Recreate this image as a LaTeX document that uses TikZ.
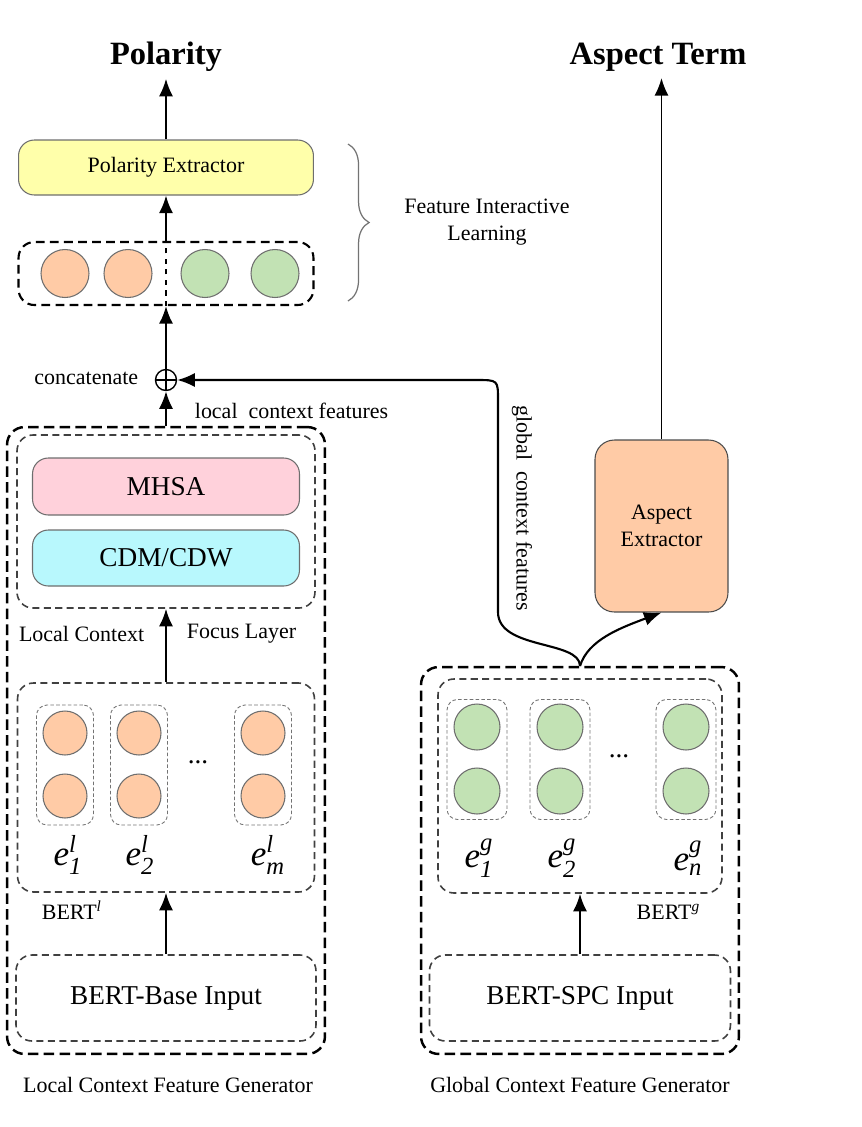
\documentclass[tikz,border=0pt]{standalone}
\usepackage{fontspec}
\setmainfont{Liberation Serif}
\usepackage{amsmath}
\usetikzlibrary{arrows.meta,decorations.pathreplacing}

\definecolor{pyellow}{HTML}{FFFFAA}
\definecolor{porange}{HTML}{FFCBA6}
\definecolor{pgreen}{HTML}{C2E2B4}
\definecolor{ppink}{HTML}{FFD1DB}
\definecolor{pcyan}{HTML}{B8F8FD}
\definecolor{pedge}{HTML}{6E6E6E}

\newcommand{\embvec}[2]{\textit{e}$^{\textit{#1}}_{\textit{#2}}$}

\tikzset{
	title/.style={font=\fontsize{18.5}{22}\selectfont\bfseries},
	lbl/.style={font=\fontsize{12.5}{15}\selectfont},
	big/.style={font=\fontsize{15.5}{18}\selectfont},
	emb/.style={font=\fontsize{20}{24}\selectfont},
	block/.style={draw=pedge, rounded corners=9pt, line width=0.6pt},
	gen/.style={draw, rounded corners=10pt, line width=1.4pt, dash pattern=on 6pt off 3pt},
	layer/.style={draw=black!75, rounded corners=9pt, line width=0.9pt, dash pattern=on 4pt off 2.5pt},
	column/.style={draw=black!55, rounded corners=6pt, line width=0.5pt, dash pattern=on 2pt off 1.3pt,
		minimum width=1.14cm, minimum height=2.4cm},
	tok/.style={circle, draw=pedge, line width=0.6pt},
	concat/.style={circle, draw, line width=0.8pt, minimum size=0.42cm, inner sep=0pt,
		path picture={\draw[line width=0.8pt] (path picture bounding box.north) -- (path picture bounding box.south)
			(path picture bounding box.west) -- (path picture bounding box.east);}},
}

\begin{document}
\begin{tikzpicture}[x=0.02cm, y=-0.02cm, >={Latex[length=10pt,width=8pt]}, line width=1.2pt]

	\useasboundingbox (0,0) rectangle (862,1127);

	% outputs
	\node[title] at (166, 57) (pol) {Polarity};
	\node[title] at (658, 57) (aterm) {Aspect Term};

	\node[block, fill=pyellow, minimum width=5.9cm, minimum height=1.1cm, lbl] at (166, 167.5) (pe) {Polarity Extractor};
	\node[layer, draw=black, line width=1.2pt, dash pattern=on 5pt off 3pt, minimum width=5.9cm, minimum height=1.26cm] at (166, 273.5) (fus) {};
	\node[tok, fill=porange, minimum size=0.96cm] at (65, 273.5) (f1) {};
	\node[tok, fill=porange, minimum size=0.96cm] at (128, 273.5) (f2) {};
	\node[tok, fill=pgreen, minimum size=0.96cm] at (205, 273.5) (f3) {};
	\node[tok, fill=pgreen, minimum size=0.96cm] at (275, 273.5) (f4) {};

	\node[concat] at (166, 380) (cat) {};
	\node[lbl, anchor=east] at (145, 378) (catlbl) {concatenate};

	\draw[line width=0.7pt, draw=black!55, decorate, decoration={brace, amplitude=12pt}] (348, 144) to (348, 301);
	\node[lbl, align=center] at (487, 222) (fil) {Feature Interactive\\Learning};

	% local context feature generator
	\node[gen, minimum width=6.36cm, minimum height=12.54cm] at (166, 740.5) (lgen) {};
	\node[layer, minimum width=5.96cm, minimum height=3.46cm] at (166, 521.5) (lcf) {};
	\node[block, fill=ppink, minimum width=5.34cm, minimum height=1.14cm, big] at (166, 486.5) (mhsa) {MHSA};
	\node[block, fill=pcyan, minimum width=5.34cm, minimum height=1.12cm, big] at (166, 558) (cdm) {CDM/CDW};
	\node[lbl, anchor=east] at (151, 634) (lcflbl) {Local Context};
	\node[lbl, anchor=west] at (180, 634) (focuslbl) {Focus Layer};

	\node[layer, minimum width=5.94cm, minimum height=4.18cm] at (166, 787.5) (bertl) {};
	\node[column] at (65, 765) (lc1) {};
	\node[column] at (139, 765) (lc2) {};
	\node[column] at (263, 765) (lc3) {};
	\node[tok, fill=porange, minimum size=0.88cm] at (65, 733) (l1a) {};
	\node[tok, fill=porange, minimum size=0.88cm] at (65, 796) (l1b) {};
	\node[tok, fill=porange, minimum size=0.88cm] at (139, 733) (l2a) {};
	\node[tok, fill=porange, minimum size=0.88cm] at (139, 796) (l2b) {};
	\node[tok, fill=porange, minimum size=0.88cm] at (263, 733) (l3a) {};
	\node[tok, fill=porange, minimum size=0.88cm] at (263, 796) (l3b) {};
	\node[big] at (198, 762) (ldots) {...};
	\node[emb] at (68, 855) (e1) {\embvec{l}{1}};
	\node[emb] at (140, 855) (e2) {\embvec{l}{2}};
	\node[emb] at (268, 855) (em) {\embvec{l}{m}};
	\node[lbl, anchor=west] at (35, 910) (bertllbl) {BERT$^{\textit{l}}$};

	\node[layer, minimum width=6cm, minimum height=1.72cm, big] at (166, 998) (base) {BERT-Base Input};
	\node[lbl] at (168, 1085) (lgenlbl) {Local Context Feature Generator};

	% global context feature generator
	\node[gen, minimum width=6.36cm, minimum height=7.74cm] at (580, 860.5) (ggen) {};
	\node[layer, minimum width=5.68cm, minimum height=4.28cm] at (580, 786) (bertg) {};
	\node[column, minimum width=1.2cm] at (477, 759.5) (gc1) {};
	\node[column, minimum width=1.2cm] at (560, 759.5) (gc2) {};
	\node[column, minimum width=1.2cm] at (686, 759.5) (gc3) {};
	\node[tok, fill=pgreen, minimum size=0.92cm] at (477, 727) (g1a) {};
	\node[tok, fill=pgreen, minimum size=0.92cm] at (477, 791) (g1b) {};
	\node[tok, fill=pgreen, minimum size=0.92cm] at (560, 727) (g2a) {};
	\node[tok, fill=pgreen, minimum size=0.92cm] at (560, 791) (g2b) {};
	\node[tok, fill=pgreen, minimum size=0.92cm] at (686, 727) (g3a) {};
	\node[tok, fill=pgreen, minimum size=0.92cm] at (686, 791) (g3b) {};
	\node[big] at (619, 756) (gdots) {...};
	\node[emb] at (479, 858) (g1) {\embvec{g}{1}};
	\node[emb] at (562, 858) (g2) {\embvec{g}{2}};
	\node[emb] at (688, 858) (gn) {\embvec{g}{n}};
	\node[lbl, anchor=east] at (707, 912) (bertglbl) {BERT$^{\textit{g}}$};

	\node[layer, minimum width=6.02cm, minimum height=1.72cm, big] at (580, 998) (spc) {BERT-SPC Input};
	\node[lbl] at (580, 1085) (ggenlbl) {Global Context Feature Generator};

	\node[block, fill=porange, draw=black!70, rounded corners=11pt, minimum width=2.66cm, minimum height=3.44cm, lbl, align=center] at (661.5, 526) (ae) {Aspect\\Extractor};

	\coordinate (split) at (580, 666);

	% arrows
	\draw[] [->] (pe.north) to (pol.south);
	\draw[] [->] (fus.north) to (pe.south);
	\draw[dashed, line width=1pt] (fus.south) to (fus.north);
	\draw[] [->] (cat.north) to (fus.south);
	\draw[] [->] (lgen.north) to (cat.south);
	\node[lbl, anchor=west] at (188, 411) (lcflbl2) {local~ context features};
	\draw[] [->] (bertl.north) to (lcf.south);
	\draw[] [->] (base.north) to (bertl.south);
	\draw[] [->] (spc.north) to (bertg.south);

	\draw[line width=0.9pt] [->] (ae.north) to (ae.north |- aterm.south);
	\draw[] [->] (split) .. controls (580, 640) and (498, 650) .. (498, 612) -- (498, 400) .. controls (498, 380) .. (476, 380) -- (cat.east);
	\draw[] [->] (split) .. controls (588, 640) and (620, 628) .. (ae.south);
	\node[lbl, rotate=-90] at (522, 508) (gcflbl) {global~ context features};

\end{tikzpicture}
\end{document}
